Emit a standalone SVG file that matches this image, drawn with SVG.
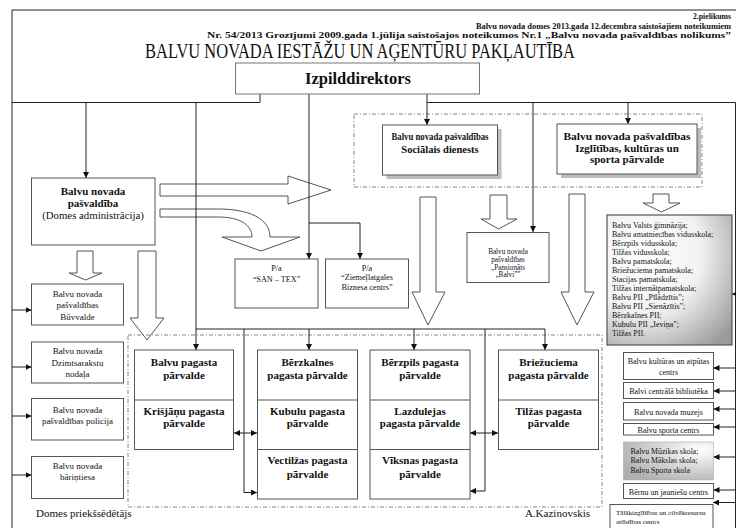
<svg xmlns="http://www.w3.org/2000/svg" width="736" height="528" viewBox="0 0 736 528" font-family="'Liberation Serif', 'DejaVu Serif', serif">
<style>
text{font-family:'Liberation Serif','DejaVu Serif',serif;fill:#111}
.b{font-weight:bold}
.c{text-anchor:middle}
.r{text-anchor:end}
.box{fill:#fff;stroke:#555;stroke-width:1}
.shadow{fill:#bdbdbd;stroke:none}
.grp{fill:none;stroke:#666;stroke-width:0.8;stroke-dasharray:4 2 1 2}
.ln{fill:none;stroke:#222;stroke-width:1}
.arr{marker-end:url(#ah)}
.dbl{marker-end:url(#ah);marker-start:url(#ahs)}
.hol{fill:#fff;stroke:#555;stroke-width:1}
</style>
<defs>
<marker id="ah" markerUnits="userSpaceOnUse" markerWidth="7" markerHeight="6" refX="6" refY="3" orient="auto"><path d="M0,0 L6,3 L0,6 z" fill="#111"/></marker>
<marker id="ahs" markerUnits="userSpaceOnUse" markerWidth="7" markerHeight="6" refX="6" refY="3" orient="auto-start-reverse"><path d="M0,0 L6,3 L0,6 z" fill="#111"/></marker>
<radialGradient id="g1" cx="30%" cy="30%" r="90%"><stop offset="0" stop-color="#ffffff"/><stop offset="0.5" stop-color="#f2f2f2"/><stop offset="1" stop-color="#9a9a9a"/></radialGradient>
<radialGradient id="g2" cx="85%" cy="20%" r="95%"><stop offset="0" stop-color="#ffffff"/><stop offset="1" stop-color="#b0b0b0"/></radialGradient>
</defs>

<g id="header">
<text class="b r" x="731" y="19" font-size="8.5" textLength="38" lengthAdjust="spacingAndGlyphs">2.pielikums</text>
<text class="b r" x="731" y="28.5" font-size="8.5" textLength="255" lengthAdjust="spacingAndGlyphs">Balvu novada domes 2013.gada 12.decembra saistošajiem noteikumiem</text>
<text class="b r" x="731" y="38" font-size="8.5" textLength="524" lengthAdjust="spacingAndGlyphs">Nr. 54/2013 Grozījumi 2009.gada 1.jūlija saistošajos noteikumos Nr.1 „Balvu novada pašvaldības nolikums”</text>
<text x="145" y="58" font-size="20" textLength="430" lengthAdjust="spacingAndGlyphs">BALVU NOVADA IESTĀŽU UN AĢENTŪRU PAKĻAUTĪBA</text>
</g>

<g id="hollow-arrows">
<polygon class="hol" points="160,184 288,184 288,176 331,190 288,204 288,196 160,196"/>
<path class="hol" d="M160,209 H218 C248,209 270,218 270,237 H300 L261,251 L222,237 H252 C252,225 240,217 218,217 H160 Z"/>
<polygon class="hol" points="77,251 93,251 93,273 102,273 85.5,280 69,273 77,273"/>
<polygon class="hol" points="138,251 156,251 156,318 164,318 147,340 130,318 138,318"/>
<polygon class="hol" points="420,197 436,197 436,292 445,292 428,325 412,292 420,292"/>
<polygon class="hol" points="490,195 507,195 507,219 517,219 498.5,229 481,219 490,219"/>
<polygon class="hol" points="569,194 585,194 585,292 594,292 577,325 561,292 569,292"/>
<polygon class="hol" points="653,194 669,194 669,203 680,203 661.5,212 643,203 653,203"/>
</g>

<g id="groups">
<rect class="grp" x="354" y="114" width="348" height="73"/>
<rect class="grp" x="128" y="335" width="474" height="172"/>
</g>

<g id="connectors">
<path class="ln" d="M12,528 V10 H736"/>
<path class="ln" d="M260,94 V102.5 H12"/>
<path class="ln arr" d="M86,102.5 V178"/>
<path class="ln arr" d="M196,102.5 V350"/>
<path class="ln arr" d="M309,94 V259"/>
<path class="ln arr" d="M309,223 H360 V259"/>
<path class="ln arr" d="M427,94 V125"/>
<path class="ln" d="M427,102.5 H735.5 V528"/>
<path class="ln arr" d="M533,102.5 V232"/>
<path class="ln arr" d="M628,102.5 V124"/>
<path class="ln arr" d="M196,329 H545 V350"/>
<path class="ln arr" d="M309,329 V350"/>
<path class="ln arr" d="M414,329 V350"/>
<path class="ln arr" d="M244,329 V492.5 H257"/>
<path class="ln arr" d="M485,329 V491 H470"/>
<path class="ln dbl" d="M234,433 H257"/>
<path class="ln dbl" d="M470,433 H498"/>
<path class="ln arr" d="M12,310 H31.5"/>
<path class="ln arr" d="M12,367 H31.5"/>
<path class="ln arr" d="M12,416 H31.5"/>
<path class="ln arr" d="M12,475 H31.5"/>
<path class="ln arr" d="M735.5,294 H732"/>
<path class="ln arr" d="M735.5,368 H713.5"/>
<path class="ln arr" d="M735.5,391 H713.5"/>
<path class="ln arr" d="M735.5,409 H713.5"/>
<path class="ln arr" d="M735.5,427 H713.5"/>
<path class="ln arr" d="M735.5,457 H713.5"/>
<path class="ln arr" d="M735.5,490 H713.5"/>
<path class="ln arr" d="M735.5,502.5 H713"/>
</g>

<g id="izpilddirektors">
<rect class="box" x="235.5" y="63" width="244" height="31" style="stroke:#777"/>
<text class="b c" x="358" y="84" font-size="16.5">Izpilddirektors</text>
</g>

<g id="socialais">
<rect class="shadow" x="386.5" y="129" width="115" height="50"/>
<rect class="box" x="382.5" y="125" width="115" height="50"/>
<text class="b c" x="440" y="140" font-size="10.5" textLength="97" lengthAdjust="spacingAndGlyphs">Balvu novada pašvaldības</text>
<text class="b c" x="440" y="153" font-size="10.5">Sociālais dienests</text>
</g>

<g id="izglitibas">
<rect class="shadow" x="561" y="128" width="140" height="50"/>
<rect class="box" x="557" y="124" width="140" height="50"/>
<text class="b c" x="627" y="140" font-size="11" textLength="127" lengthAdjust="spacingAndGlyphs">Balvu novada pašvaldības</text>
<text class="b c" x="627" y="151.5" font-size="11">Izglītības, kultūras un</text>
<text class="b c" x="627" y="162.5" font-size="11">sporta pārvalde</text>
</g>

<g id="pasvaldiba">
<rect class="box" x="31.5" y="178" width="123.5" height="67"/>
<text class="b c" x="93" y="195" font-size="11">Balvu novada</text>
<text class="b c" x="93" y="207" font-size="11">pašvaldība</text>
<text class="c" x="93" y="218.5" font-size="10.8">(Domes administrācija)</text>
</g>

<g id="santex">
<rect class="box" x="235" y="259" width="83" height="49"/>
<text class="c" x="276.5" y="271" font-size="8.2">P/a</text>
<text class="c" x="276.5" y="281.5" font-size="8.2">“SAN – TEX”</text>
</g>

<g id="ziemellatgales">
<rect class="box" x="325.5" y="259" width="83" height="49"/>
<text class="c" x="367" y="271" font-size="8.2">P/a</text>
<text class="c" x="367" y="280" font-size="8.2">“Ziemeļlatgales</text>
<text class="c" x="367" y="290" font-size="8.2">Biznesa centrs”</text>
</g>

<g id="pansionats">
<rect class="box" x="467" y="232.5" width="82" height="50"/>
<text class="c" x="508" y="254" font-size="7.2">Balvu novada</text>
<text class="c" x="508" y="261.8" font-size="7.2">pašvaldības</text>
<text class="c" x="508" y="269.6" font-size="7.2">„Pansionāts</text>
<text class="c" x="508" y="277.4" font-size="7.2">„Balvi””</text>
</g>

<g id="skolas">
<rect x="607" y="215" width="125" height="130" fill="url(#g1)" stroke="#555" stroke-width="1.2"/>
<g font-size="8">
<text x="612" y="227.8">Balvu Valsts ģimnāzija;</text>
<text x="612" y="236.8">Balvu amatniecības vidusskola;</text>
<text x="612" y="245.7">Bērzpils vidusskola;</text>
<text x="612" y="254.7">Tilžas vidusskola;</text>
<text x="612" y="263.7">Balvu pamatskola;</text>
<text x="612" y="272.6">Briežuciema pamatskola;</text>
<text x="612" y="281.6">Stacijas pamatskola;</text>
<text x="612" y="290.6">Tilžas internātpamatskola;</text>
<text x="612" y="299.6">Balvu PII „Pīlādzītis”;</text>
<text x="612" y="308.5">Balvu PII „Sienāzītis”;</text>
<text x="612" y="317.5">Bērzkalnes PII;</text>
<text x="612" y="326.5">Kubulu PII „Ieviņa”;</text>
<text x="612" y="335.5">Tilžas PII.</text>
</g>
</g>

<g id="buvvalde">
<rect class="box" x="31.5" y="284" width="92" height="41"/>
<text class="c" x="77.5" y="296.5" font-size="9">Balvu novada</text>
<text class="c" x="77.5" y="308" font-size="9">pašvaldības</text>
<text class="c" x="77.5" y="319.5" font-size="9">Būvvalde</text>
</g>
<g id="dzimtsarakstu">
<rect class="box" x="31.5" y="342" width="92" height="41"/>
<text class="c" x="77.5" y="354" font-size="9">Balvu novada</text>
<text class="c" x="77.5" y="365.5" font-size="9">Dzimtsarakstu</text>
<text class="c" x="77.5" y="377" font-size="9">nodaļa</text>
</g>
<g id="policija">
<rect class="box" x="31.5" y="398.5" width="92" height="41.5"/>
<text class="c" x="77.5" y="412.7" font-size="9">Balvu novada</text>
<text class="c" x="77.5" y="423.5" font-size="9">pašvaldības policija</text>
</g>
<g id="barintiesa">
<rect class="box" x="31.5" y="456.5" width="92" height="42"/>
<text class="c" x="77.5" y="468.5" font-size="9">Balvu novada</text>
<text class="c" x="77.5" y="480" font-size="9">bāriņtiesa</text>
</g>

<text x="36" y="517" font-size="11">Domes priekšsēdētājs</text>
<text class="r" x="590" y="517" font-size="11">A.Kazinovskis</text>

<g id="pagasts-1">
<rect class="box" x="134.5" y="350" width="99" height="99.5"/>
<line x1="134.5" y1="400" x2="233.5" y2="400" stroke="#555"/>
<text class="b c" x="184" y="366" font-size="11">Balvu pagasta</text>
<text class="b c" x="184" y="379" font-size="11">pārvalde</text>
<text class="b c" x="184" y="414.5" font-size="11">Krišjāņu pagasta</text>
<text class="b c" x="184" y="427" font-size="11">pārvalde</text>
</g>
<g id="pagasts-2">
<rect class="box" x="257.5" y="350" width="100" height="149"/>
<line x1="257.5" y1="400" x2="357.5" y2="400" stroke="#555"/>
<line x1="257.5" y1="449.5" x2="357.5" y2="449.5" stroke="#555"/>
<text class="b c" x="307.5" y="366" font-size="11">Bērzkalnes</text>
<text class="b c" x="307.5" y="379" font-size="11">pagasta pārvalde</text>
<text class="b c" x="307.5" y="414.5" font-size="11">Kubulu pagasta</text>
<text class="b c" x="307.5" y="427" font-size="11">pārvalde</text>
<text class="b c" x="307.5" y="464" font-size="11">Vectilžas pagasta</text>
<text class="b c" x="307.5" y="477.5" font-size="11">pārvalde</text>
</g>
<g id="pagasts-3">
<rect class="box" x="370" y="350" width="100" height="149"/>
<line x1="370" y1="400" x2="470" y2="400" stroke="#555"/>
<line x1="370" y1="449.5" x2="470" y2="449.5" stroke="#555"/>
<text class="b c" x="420" y="366" font-size="11">Bērzpils pagasta</text>
<text class="b c" x="420" y="379" font-size="11">pārvalde</text>
<text class="b c" x="420" y="414.5" font-size="11">Lazdulejas</text>
<text class="b c" x="420" y="427" font-size="11">pagasta pārvalde</text>
<text class="b c" x="420" y="464" font-size="11">Vīksnas pagasta</text>
<text class="b c" x="420" y="477.5" font-size="11">pārvalde</text>
</g>
<g id="pagasts-4">
<rect class="box" x="498.5" y="350" width="100" height="99.5"/>
<line x1="498.5" y1="400" x2="598.5" y2="400" stroke="#555"/>
<text class="b c" x="548.5" y="366" font-size="11">Briežuciema</text>
<text class="b c" x="548.5" y="379" font-size="11">pagasta pārvalde</text>
<text class="b c" x="548.5" y="414.5" font-size="11">Tilžas pagasta</text>
<text class="b c" x="548.5" y="427" font-size="11">pārvalde</text>
</g>

<g id="kulturas-centrs">
<rect class="box" x="623.5" y="352.5" width="90" height="27"/>
<text class="c" x="668.5" y="363.5" font-size="8">Balvu kultūras un atpūtas</text>
<text class="c" x="668.5" y="375" font-size="8">centrs</text>
</g>
<g id="biblioteka">
<rect class="box" x="623.5" y="382.5" width="90" height="16"/>
<text class="c" x="668.5" y="393.8" font-size="8">Balvi centrālā bibliotēka</text>
</g>
<g id="muzejs">
<rect class="box" x="623.5" y="402.5" width="90" height="17.5"/>
<text class="c" x="668.5" y="414.5" font-size="8">Balvu novada muzejs</text>
</g>
<g id="sporta-centrs">
<rect class="box" x="623.5" y="423.5" width="90" height="11.5"/>
<text class="c" x="668.5" y="432.5" font-size="8">Balvu sporta centrs</text>
</g>
<g id="skolas-maksla">
<rect x="623.5" y="442" width="90" height="38" fill="url(#g2)" stroke="#aaa" stroke-width="0.6"/>
<text x="630.5" y="454.3" font-size="7.8">Balvu Mūzikas skola;</text>
<text x="630.5" y="462.6" font-size="7.8">Balvu Mākslas skola;</text>
<text x="630.5" y="472.6" font-size="7.8">Balvu Sporta skola</text>
</g>
<g id="bernu-centrs">
<rect class="box" x="623.5" y="483.5" width="90" height="15"/>
<text class="c" x="668.5" y="495" font-size="8">Bērnu un jauniešu centrs</text>
</g>
<g id="talakizglitibas">
<rect class="box" x="610" y="504.5" width="103" height="30"/>
<text x="616" y="515" font-size="7">Tālākizglītības un cilvēkresursu</text>
<text x="616" y="524" font-size="7">attīstības centrs</text>
</g>
</svg>
